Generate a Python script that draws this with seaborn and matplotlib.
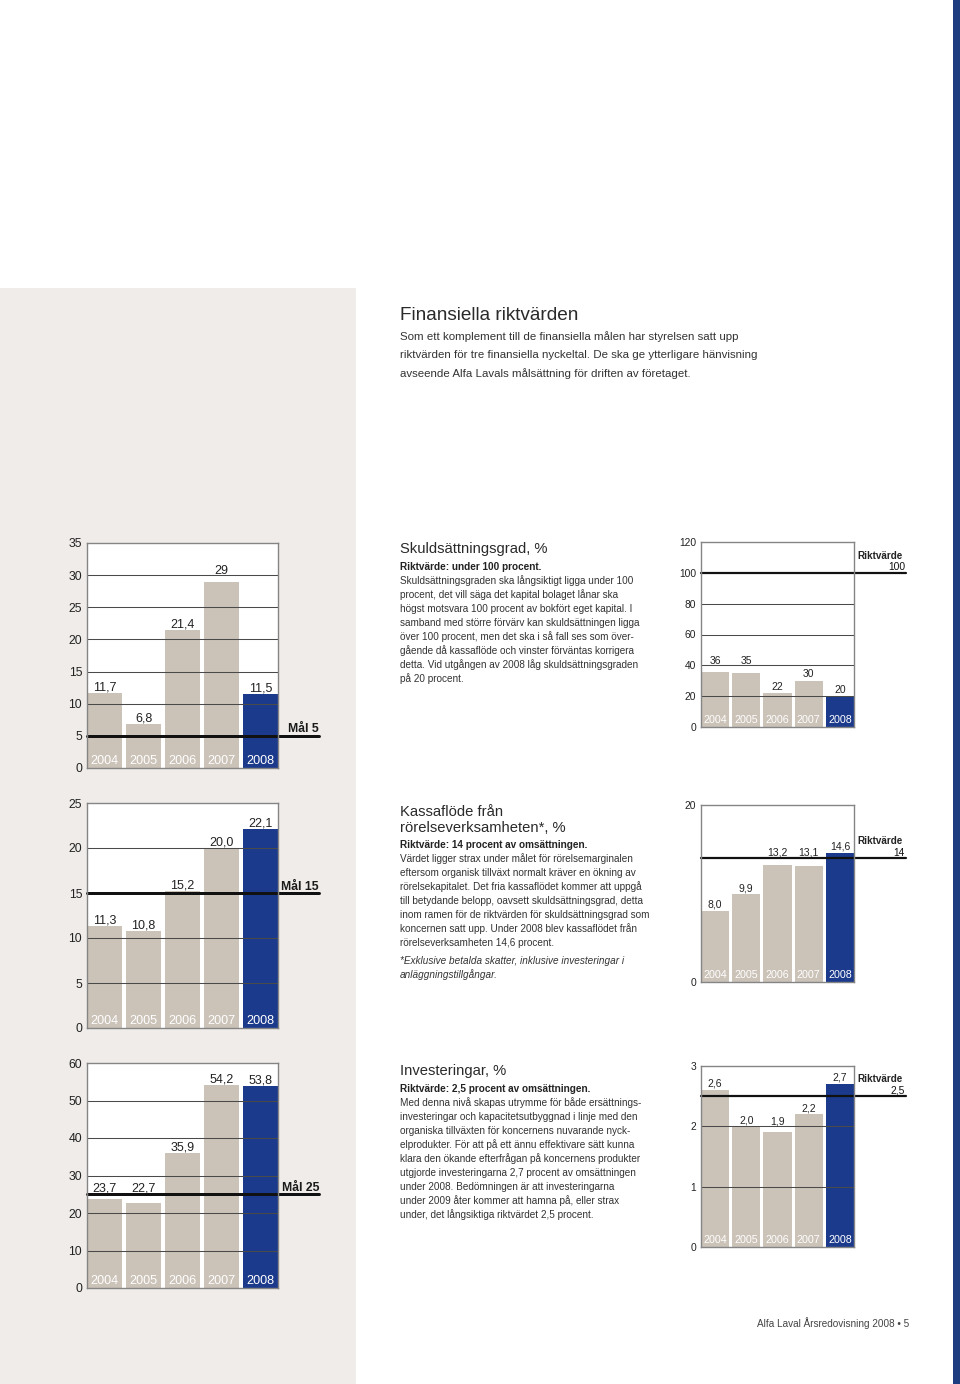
import matplotlib
matplotlib.use('Agg')
import matplotlib.pyplot as plt
import matplotlib.transforms as mtransforms
from matplotlib.patches import Rectangle
import seaborn as sns
import pandas as pd

# ---------------- data ----------------
years = ['2004', '2005', '2006', '2007', '2008']

goal1_values = [11.7, 6.8, 21.4, 29.0, 11.5]
goal1_labels = ['11,7', '6,8', '21,4', '29', '11,5']
goal1_ticks = [0, 5, 10, 15, 20, 25, 30, 35]
goal1_target = 5
goal1_target_text = 'Mål 5'

goal2_values = [11.3, 10.8, 15.2, 20.0, 22.1]
goal2_labels = ['11,3', '10,8', '15,2', '20,0', '22,1']
goal2_ticks = [0, 5, 10, 15, 20, 25]
goal2_target = 15
goal2_target_text = 'Mål 15'

goal3_values = [23.7, 22.7, 35.9, 54.2, 53.8]
goal3_labels = ['23,7', '22,7', '35,9', '54,2', '53,8']
goal3_ticks = [0, 10, 20, 30, 40, 50, 60]
goal3_target = 25
goal3_target_text = 'Mål 25'

debt_values = [36, 35, 22, 30, 20]
debt_labels = ['36', '35', '22', '30', '20']
debt_ticks = [0, 20, 40, 60, 80, 100, 120]
debt_target = 100
debt_target_text = '100'

cash_values = [8.0, 9.9, 13.2, 13.1, 14.6]
cash_labels = ['8,0', '9,9', '13,2', '13,1', '14,6']
cash_ticks = [0, 20]
cash_target = 14
cash_target_text = '14'

inv_values = [2.6, 2.0, 1.9, 2.2, 2.7]
inv_labels = ['2,6', '2,0', '1,9', '2,2', '2,7']
inv_ticks = [0, 1, 2, 3]
inv_target = 2.5
inv_target_text = '2,5'

intro_title = 'Finansiella riktvärden'
intro_lines = [
    'Som ett komplement till de finansiella målen har styrelsen satt upp',
    'riktvärden för tre finansiella nyckeltal. De ska ge ytterligare hänvisning',
    'avseende Alfa Lavals målsättning för driften av företaget.',
]
sec1_title = ['Skuldsättningsgrad, %']
sec1_sub = 'Riktvärde: under 100 procent.'
sec1_lines = [
    'Skuldsättningsgraden ska långsiktigt ligga under 100',
    'procent, det vill säga det kapital bolaget lånar ska',
    'högst motsvara 100 procent av bokfört eget kapital. I',
    'samband med större förvärv kan skuldsättningen ligga',
    'över 100 procent, men det ska i så fall ses som över-',
    'gående då kassaflöde och vinster förväntas korrigera',
    'detta. Vid utgången av 2008 låg skuldsättningsgraden',
    'på 20 procent.',
]
sec2_title = ['Kassaflöde från', 'rörelseverksamheten*, %']
sec2_sub = 'Riktvärde: 14 procent av omsättningen.'
sec2_lines = [
    'Värdet ligger strax under målet för rörelsemarginalen',
    'eftersom organisk tillväxt normalt kräver en ökning av',
    'rörelsekapitalet. Det fria kassaflödet kommer att uppgå',
    'till betydande belopp, oavsett skuldsättningsgrad, detta',
    'inom ramen för de riktvärden för skuldsättningsgrad som',
    'koncernen satt upp. Under 2008 blev kassaflödet från',
    'rörelseverksamheten 14,6 procent.',
]
sec2_note = ['*Exklusive betalda skatter, inklusive investeringar i',
             'anläggningstillgångar.']
sec3_title = ['Investeringar, %']
sec3_sub = 'Riktvärde: 2,5 procent av omsättningen.'
sec3_lines = [
    'Med denna nivå skapas utrymme för både ersättnings-',
    'investeringar och kapacitetsutbyggnad i linje med den',
    'organiska tillväxten för koncernens nuvarande nyck-',
    'elprodukter. För att på ett ännu effektivare sätt kunna',
    'klara den ökande efterfrågan på koncernens produkter',
    'utgjorde investeringarna 2,7 procent av omsättningen',
    'under 2008. Bedömningen är att investeringarna',
    'under 2009 åter kommer att hamna på, eller strax',
    'under, det långsiktiga riktvärdet 2,5 procent.',
]
riktvarde_word = 'Riktvärde'
footer_text = 'Alfa Laval Årsredovisning 2008 • 5'

# ---------------- style ----------------
sns.set_style('white')
plt.rcParams['font.family'] = ['Liberation Sans', 'DejaVu Sans']

GRAY = '#cbc2b8'
BLUE = '#1b3a8c'
PANEL = '#efece9'
STRIPE = '#1e3d80'
TXT = '#333333'
palette = [GRAY, GRAY, GRAY, GRAY, BLUE]

W, H = 960, 1384
fig = plt.figure(figsize=(W / 100, H / 100), dpi=100)
fig.patch.set_facecolor('white')
PT = 0.72  # points per pixel at dpi 100

fig.add_artist(Rectangle((0, 0), 356 / W, 1 - 288 / H, transform=fig.transFigure,
                         facecolor=PANEL, edgecolor='none', zorder=-5))
fig.add_artist(Rectangle((953 / W, 0), 7 / W, 1, transform=fig.transFigure,
                         facecolor=STRIPE, edgecolor='none', zorder=-5))


def rect_px(x0, y0, x1, y1):
    return [x0 / W, 1 - y1 / H, (x1 - x0) / W, (y1 - y0) / H]


def draw_chart(box, values, labels, ticks, target, target_text, side):
    x0, y0, x1, y1 = box
    hpx = y1 - y0
    wpx = x1 - x0
    ax = fig.add_axes(rect_px(*box))
    ax.set_facecolor('white')
    df = pd.DataFrame({'year': years, 'value': values})
    sns.barplot(data=df, x='year', y='value', hue='year', palette=palette,
                width=0.9, saturation=1, legend=False, ax=ax,
                linewidth=0, edgecolor='none', zorder=2)
    ax.set_xlim(-0.45, 4.45)
    ax.set_ylim(0, ticks[-1])
    ax.set_xticks([])
    ax.set_xlabel('')
    ax.set_ylabel('')
    ax.set_yticks(ticks)
    if side == 'left':
        tick_fs, val_fs, year_fs = 12.3, 12.5, 12.6
        tlw_px, ext_px, yr_center = 3.0, 319, 9
    else:
        tick_fs, val_fs, year_fs = 10.2, 10.4, 10.8
        tlw_px, ext_px, yr_center = 2.2, 906, 8
    ax.set_yticklabels([str(t) for t in ticks])
    ax.tick_params(axis='y', length=0, pad=3.5, labelsize=tick_fs * PT,
                   colors='#222222')
    for s in ax.spines.values():
        s.set_visible(True)
        s.set_color('#858585')
        s.set_linewidth(1.0)
        s.set_zorder(5)
    ppu = hpx / ticks[-1]
    grid = [t for t in ticks[1:-1] if t != target]
    for g in grid:
        ax.axhline(g, color='#4a4a4a', lw=0.75, zorder=3)
    ax.axhline(target, xmin=0, xmax=(ext_px - x0) / wpx, color='#111111',
               lw=tlw_px * PT, zorder=4, clip_on=False)
    lines = [(g, 1.0) for g in grid] + [(target, tlw_px)]
    half = 0.36 * val_fs
    for i, (v, lab) in enumerate(zip(values, labels)):
        top = v * ppu
        center = top + 7
        for ly, lw in lines:
            lpx = ly * ppu
            if top + 1 < lpx < center + half + 1:
                center = max(center, lpx + lw / 2 + 1 + half)
        ax.text(i, (center - half) / ppu, lab, ha='center', va='baseline',
                fontsize=val_fs * PT, color='#222222', zorder=6)
        ax.text(i, (yr_center - 0.36 * year_fs) / ppu, years[i], ha='center',
                va='baseline', fontsize=year_fs * PT, color='white', zorder=6)
    trans = mtransforms.blended_transform_factory(ax.transAxes, ax.transData)
    xr = (ext_px - x0) / wpx
    if side == 'left':
        ax.annotate(target_text, xy=(xr, target), xycoords=trans,
                    xytext=(0, 3.5), textcoords='offset pixels', ha='right',
                    va='baseline', fontsize=12.2 * PT, fontweight='bold',
                    color='#1a1a1a', annotation_clip=False)
    else:
        ax.annotate(target_text, xy=(xr, target), xycoords=trans,
                    xytext=(-1, 2.5), textcoords='offset pixels', ha='right',
                    va='baseline', fontsize=10.2 * PT, color='#111111',
                    annotation_clip=False)
        ax.annotate(riktvarde_word, xy=(xr, target), xycoords=trans,
                    xytext=(-3, 14), textcoords='offset pixels', ha='right',
                    va='baseline', fontsize=9.9 * PT, fontweight='bold',
                    color='#222222', annotation_clip=False)
    return ax


draw_chart((87, 543, 278, 768), goal1_values, goal1_labels, goal1_ticks,
           goal1_target, goal1_target_text, 'left')
draw_chart((87, 803, 278, 1028), goal2_values, goal2_labels, goal2_ticks,
           goal2_target, goal2_target_text, 'left')
draw_chart((87, 1063, 278, 1288), goal3_values, goal3_labels, goal3_ticks,
           goal3_target, goal3_target_text, 'left')
draw_chart((701, 542, 854, 727), debt_values, debt_labels, debt_ticks,
           debt_target, debt_target_text, 'right')
draw_chart((701, 805, 854, 982), cash_values, cash_labels, cash_ticks,
           cash_target, cash_target_text, 'right')
draw_chart((701, 1066, 854, 1247), inv_values, inv_labels, inv_ticks,
           inv_target, inv_target_text, 'right')


def ftext(x, y, s, size_px, **kw):
    kw.setdefault('color', TXT)
    fig.text(x / W, 1 - y / H, s, fontsize=size_px * PT, va='baseline', **kw)


TX = 400
ftext(TX, 320, intro_title, 19, color='#2a2a2a')
for k, line in enumerate(intro_lines):
    ftext(TX, 340.5 + 18 * k, line, 11.5)


def section(title_lines, title_base, sub, body, body_base):
    for k, tl in enumerate(title_lines):
        ftext(TX, title_base + 17 * k, tl, 14.8, color='#2a2a2a')
    ftext(TX, body_base - 14, sub, 10.0, fontweight='bold', color='#222222')
    for k, line in enumerate(body):
        ftext(TX, body_base + 14 * k, line, 10.0)


section(sec1_title, 553.5, sec1_sub, sec1_lines, 584)
section(sec2_title, 815.5, sec2_sub, sec2_lines, 862)
for k, line in enumerate(sec2_note):
    ftext(TX, 964 + 14 * k, line, 10.0, style='italic')
section(sec3_title, 1075.5, sec3_sub, sec3_lines, 1106)

fig.text(909 / W, 1 - 1327 / H, footer_text, fontsize=10 * PT, ha='right',
         va='baseline', color='#444444')

fig.savefig('out.png', dpi=100, facecolor='white')
